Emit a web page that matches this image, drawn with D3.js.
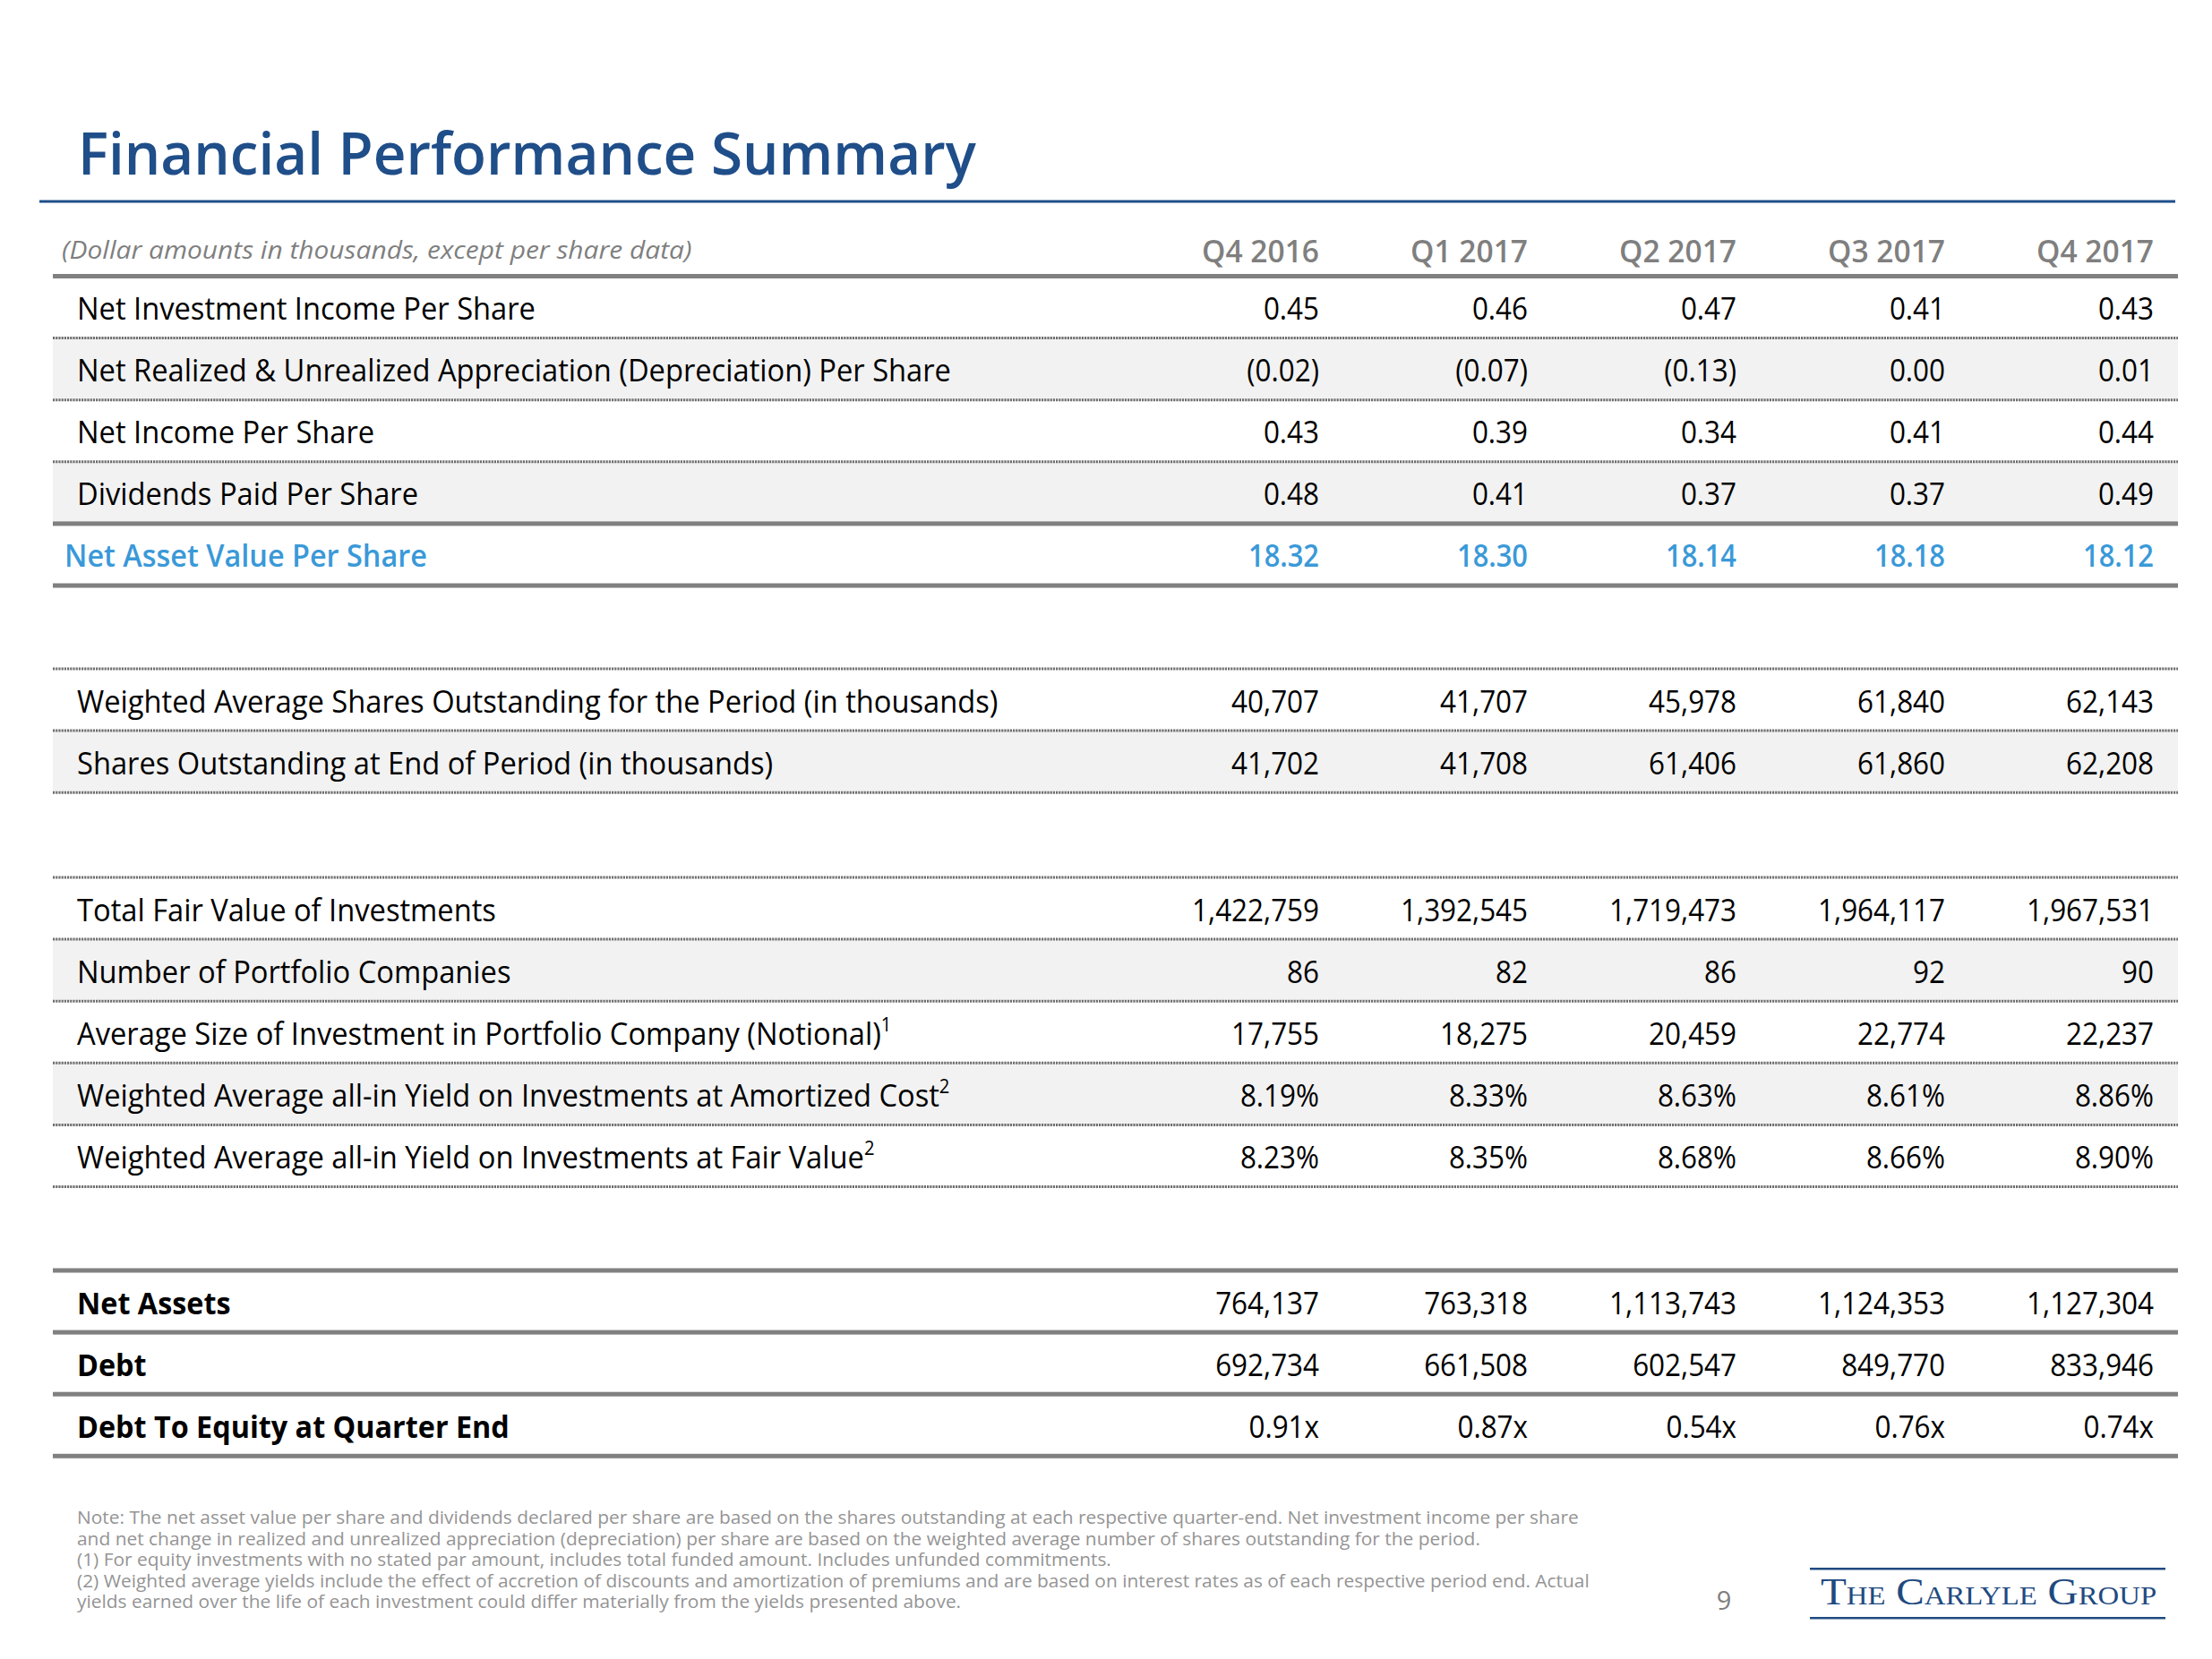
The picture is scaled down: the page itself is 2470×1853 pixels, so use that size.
<!DOCTYPE html>
<html><head><meta charset="utf-8">
<script src="https://cdn.jsdelivr.net/npm/d3@7"></script>
<style>html,body{margin:0;padding:0;background:#fff;}svg{display:block;}</style>
</head><body>
<script>
// ---------- DATA ----------
const quarters = ["Q4 2016", "Q1 2017", "Q2 2017", "Q3 2017", "Q4 2017"];
const nii          = [0.45, 0.46, 0.47, 0.41, 0.43];
const realized     = [-0.02, -0.07, -0.13, 0.00, 0.01];
const netIncome    = [0.43, 0.39, 0.34, 0.41, 0.44];
const dividends    = [0.48, 0.41, 0.37, 0.37, 0.49];
const navPerShare  = [18.32, 18.30, 18.14, 18.18, 18.12];
const wtdShares    = [40707, 41707, 45978, 61840, 62143];
const endShares    = [41702, 41708, 61406, 61860, 62208];
const fairValue    = [1422759, 1392545, 1719473, 1964117, 1967531];
const numCompanies = [86, 82, 86, 92, 90];
const avgSize      = [17755, 18275, 20459, 22774, 22237];
const yieldCost    = [8.19, 8.33, 8.63, 8.61, 8.86];
const yieldFair    = [8.23, 8.35, 8.68, 8.66, 8.90];
const netAssets    = [764137, 763318, 1113743, 1124353, 1127304];
const debt         = [692734, 661508, 602547, 849770, 833946];
const debtToEquity = [0.91, 0.87, 0.54, 0.76, 0.74];

const rowLabels = [
  "Net Investment Income Per Share",
  "Net Realized & Unrealized Appreciation (Depreciation) Per Share",
  "Net Income Per Share",
  "Dividends Paid Per Share",
  "Net Asset Value Per Share",
  "Weighted Average Shares Outstanding for the Period (in thousands)",
  "Shares Outstanding at End of Period (in thousands)",
  "Total Fair Value of Investments",
  "Number of Portfolio Companies",
  "Average Size of Investment in Portfolio Company (Notional)",
  "Weighted Average all-in Yield on Investments at Amortized Cost",
  "Weighted Average all-in Yield on Investments at Fair Value",
  "Net Assets",
  "Debt",
  "Debt To Equity at Quarter End"
];
const rowSup = ["", "", "", "", "", "", "", "", "", "1", "2", "2", "", "", ""];

const titleText = "Financial Performance Summary";
const subText = "(Dollar amounts in thousands, except per share data)";
const footLines = [
  "Note: The net asset value per share and dividends declared per share are based on the shares outstanding at each respective quarter-end. Net investment income per share",
  "and net change in realized and unrealized appreciation (depreciation) per share are based on the weighted average number of shares outstanding for the period.",
  "(1) For equity investments with no stated par amount, includes total funded amount. Includes unfunded commitments.",
  "(2) Weighted average yields include the effect of accretion of discounts and amortization of premiums and are based on interest rates as of each respective period end. Actual",
  "yields earned over the life of each investment could differ materially from the yields presented above."
];
const pageNumber = "9";
const logoText = "The Carlyle Group";

// ---------- FORMATS ----------
const f2 = d3.format(".2f");
const fc = d3.format(",");
const fmtPerShare = v => v < 0 ? "(" + f2(-v) + ")" : f2(v);
const fmtCount = v => fc(v);
const fmtPct = v => f2(v) + "%";
const fmtRatio = v => f2(v) + "x";

const rows = [
  {values: nii, fmt: fmtPerShare, style: "normal"},
  {values: realized, fmt: fmtPerShare, style: "normal"},
  {values: netIncome, fmt: fmtPerShare, style: "normal"},
  {values: dividends, fmt: fmtPerShare, style: "normal"},
  {values: navPerShare, fmt: fmtPerShare, style: "nav"},
  {values: wtdShares, fmt: fmtCount, style: "normal"},
  {values: endShares, fmt: fmtCount, style: "normal"},
  {values: fairValue, fmt: fmtCount, style: "normal"},
  {values: numCompanies, fmt: fmtCount, style: "normal"},
  {values: avgSize, fmt: fmtCount, style: "normal"},
  {values: yieldCost, fmt: fmtPct, style: "normal"},
  {values: yieldFair, fmt: fmtPct, style: "normal"},
  {values: netAssets, fmt: fmtCount, style: "bold"},
  {values: debt, fmt: fmtCount, style: "bold"},
  {values: debtToEquity, fmt: fmtRatio, style: "bold"}
];
rows.forEach((r, i) => { r.label = rowLabels[i]; r.sup = rowSup[i]; });

// ---------- LAYOUT ----------
const W = 2470, H = 1853;
const FONT = "'Open Sans', 'Noto Sans', sans-serif";
const rowH = 69.1;
const lineX0 = 59, lineX1 = 2432;
const blocks = [
  {top: 308.5, rows: [0,1,2,3,4], lines: ["thick","dot","dot","dot","thick","thick"], shade: [1,3]},
  {top: 747,   rows: [5,6],       lines: ["dot","dot","dot"], shade: [6]},
  {top: 980,   rows: [7,8,9,10,11], lines: ["dot","dot","dot","dot","dot","dot"], shade: [8,10]},
  {top: 1419,  rows: [12,13,14],  lines: ["thick","thick","thick","thick"], shade: []}
];

const svg = d3.select("body").append("svg").attr("width", W).attr("height", H)
  .attr("viewBox", `0 0 ${W} ${H}`);
svg.append("rect").attr("width", W).attr("height", H).attr("fill", "#fff");

function measure(txt, size, weight, style, family, variant) {
  const t = svg.append("text").attr("font-family", family || FONT).attr("font-size", size)
    .attr("font-weight", weight || 400).attr("font-style", style || "normal")
    .attr("font-variant", variant || "normal").text(txt);
  const w = t.node().getComputedTextLength();
  t.remove();
  return w;
}
function sxFor(sample, target, size, weight, style, family, variant) {
  return target / measure(sample, size, weight, style, family, variant);
}

const S = {
  title: {size: 66, weight: 600, color: "#1F4E89"},
  sub:   {size: 28, weight: 400, style: "italic", color: "#7F7F7F"},
  head:  {size: 35, weight: 600, color: "#7F7F7F"},
  label: {size: 34, weight: 400, color: "#000"},
  navL:  {size: 34, weight: 600, color: "#3A99D8"},
  boldL: {size: 34, weight: 700, color: "#000"},
  num:   {size: 34, weight: 400, color: "#000"},
  navN:  {size: 34, weight: 600, color: "#3A99D8"},
  foot:  {size: 19.5, weight: 400, color: "#949494"},
  page:  {size: 29, weight: 400, color: "#7F7F7F"},
  logo:  {size: 42, weight: 400, color: "#1F4A80", family: "'Liberation Serif', 'DejaVu Serif', serif", variant: "small-caps"}
};
function fitClass(c, sample, target) {
  c.sx = sxFor(sample, target, c.size, c.weight, c.style, c.family, c.variant);
}
fitClass(S.title, titleText, 1003);
fitClass(S.sub, subText, 704);
fitClass(S.head, "Q4 2016", 131);
fitClass(S.label, rowLabels[5], 1029);
fitClass(S.navL, rowLabels[4], 405);
fitClass(S.boldL, rowLabels[14], 483);
fitClass(S.num, "1,422,759", 142);
fitClass(S.navN, "18.32", 79);
fitClass(S.foot, footLines[0], 1678);
fitClass(S.logo, logoText, 374);
S.page.sx = 1;

function put(g, txt, x, y, c, anchor) {
  return g.append("text")
    .attr("transform", `translate(${x},${y}) scale(${c.sx},1)`)
    .attr("text-anchor", anchor || "start")
    .attr("font-family", c.family || FONT)
    .attr("font-size", c.size)
    .attr("font-weight", c.weight)
    .attr("font-style", c.style || "normal")
    .attr("font-variant", c.variant || "normal")
    .attr("fill", c.color)
    .text(txt);
}

const x = d3.scaleBand().domain(quarters).range([1240, 2405]).paddingInner(0);
const colRight = q => x(q) + x.bandwidth();

// ---------- TITLE ----------
put(svg, titleText, 87, 195, S.title);
svg.append("rect").attr("x", 44).attr("y", 223.5).attr("width", 2429 - 44).attr("height", 3).attr("fill", "#1F4E89");

// ---------- HEADER ----------
put(svg, subText, 69, 289, S.sub);
svg.append("g").selectAll("text").data(quarters).join("text")
  .attr("transform", q => `translate(${colRight(q)},293) scale(${S.head.sx},1)`)
  .attr("text-anchor", "end").attr("font-family", FONT).attr("font-size", S.head.size)
  .attr("font-weight", S.head.weight).attr("fill", S.head.color).text(q => q);

// ---------- TABLE ----------
const gShade = svg.append("g");
const gLines = svg.append("g");
const gText = svg.append("g");

blocks.forEach(b => {
  b.rows.forEach((ri, k) => {
    const top = b.top + k * rowH;
    const r = rows[ri];
    if (b.shade.includes(ri)) {
      gShade.append("rect").attr("x", lineX0).attr("y", top).attr("width", lineX1 - lineX0)
        .attr("height", rowH).attr("fill", "#F2F2F2");
    }
    const base = top + 48.5;
    const lc = r.style === "nav" ? S.navL : (r.style === "bold" ? S.boldL : S.label);
    const lx = r.style === "nav" ? 72 : 86;
    const t = put(gText, r.label, lx, base, lc);
    if (r.sup) {
      t.append("tspan").attr("dy", -15).attr("font-size", 21).text(r.sup);
    }
    const nc = r.style === "nav" ? S.navN : S.num;
    gText.append("g").selectAll("text").data(r.values.map((v, i) => ({q: quarters[i], v})))
      .join("text")
      .attr("transform", d => `translate(${colRight(d.q)},${base}) scale(${nc.sx},1)`)
      .attr("text-anchor", "end").attr("font-family", FONT).attr("font-size", nc.size)
      .attr("font-weight", nc.weight).attr("fill", nc.color)
      .text(d => r.fmt(d.v));
  });
  b.lines.forEach((type, k) => {
    const y = b.top + k * rowH;
    if (type === "thick") {
      gLines.append("rect").attr("x", lineX0).attr("y", y - 2.5).attr("width", lineX1 - lineX0)
        .attr("height", 5).attr("fill", "#808080");
    } else {
      gLines.append("line").attr("x1", lineX0).attr("x2", lineX1).attr("y1", y).attr("y2", y)
        .attr("stroke", "#6F6F6F").attr("stroke-width", 3).attr("stroke-dasharray", "2.2 1");
    }
  });
});

// ---------- FOOTNOTES ----------
footLines.forEach((l, i) => put(svg, l, 86, 1702 + i * 23.6, S.foot));

// ---------- PAGE NUMBER & LOGO ----------
put(svg, pageNumber, 1925, 1798, S.page, "middle");
svg.append("rect").attr("x", 2021).attr("y", 1751).attr("width", 397).attr("height", 2.5).attr("fill", "#1F4A80");
svg.append("rect").attr("x", 2021).attr("y", 1806).attr("width", 397).attr("height", 2.5).attr("fill", "#1F4A80");
put(svg, logoText, 2033, 1792, S.logo);
</script>
</body></html>
